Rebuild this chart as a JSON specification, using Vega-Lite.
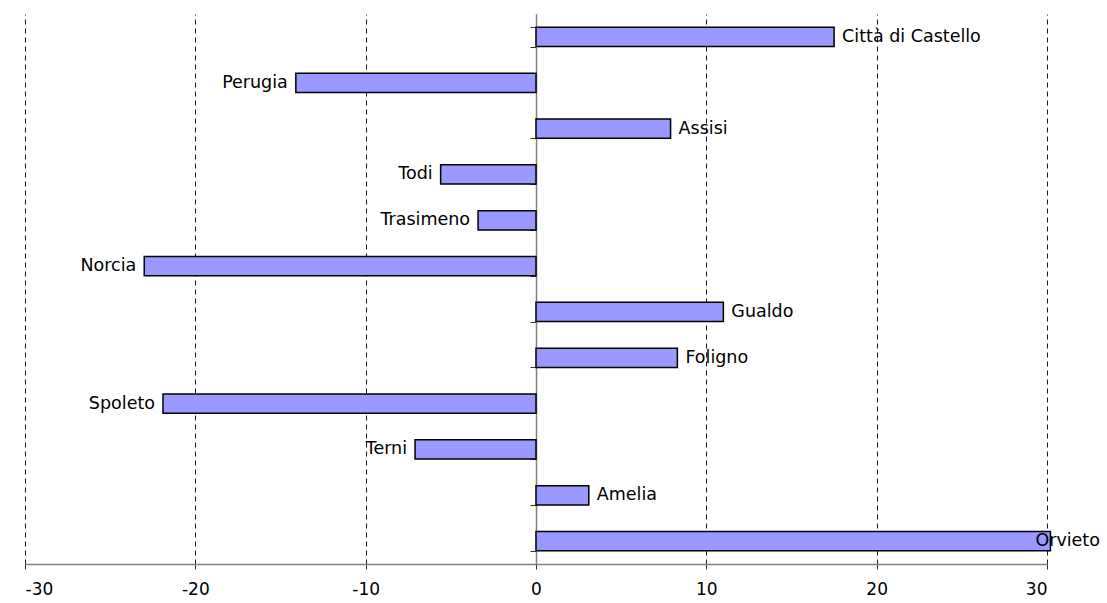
{
  "$schema": "https://vega.github.io/schema/vega-lite/v6.json",
  "width": 1022,
  "height": 550,
  "autosize": "none",
  "padding": {"left": 25, "top": 14, "right": 60, "bottom": 39},
  "background": "white",
  "config": {
    "view": {"stroke": null},
    "font": "DejaVu Sans"
  },
  "data": {
    "values": [
      {"area": "Città di Castello", "value": 17.5},
      {"area": "Perugia", "value": -14.1},
      {"area": "Assisi", "value": 7.9},
      {"area": "Todi", "value": -5.6},
      {"area": "Trasimeno", "value": -3.4},
      {"area": "Norcia", "value": -23.0},
      {"area": "Gualdo", "value": 11.0},
      {"area": "Foligno", "value": 8.3},
      {"area": "Spoleto", "value": -21.9},
      {"area": "Terni", "value": -7.1},
      {"area": "Amelia", "value": 3.1},
      {"area": "Orvieto", "value": 30.2}
    ]
  },
  "encoding": {
    "y": {
      "field": "area",
      "type": "nominal",
      "sort": null,
      "scale": {"paddingInner": 0.58, "paddingOuter": 0.29},
      "axis": {
        "title": null,
        "labels": false,
        "offset": -511,
        "tickBand": "extent",
        "tickSize": 6,
        "tickColor": "#333333",
        "domainColor": "#808080",
        "domainWidth": 1.5,
        "grid": false
      }
    },
    "x": {
      "field": "value",
      "type": "quantitative",
      "scale": {"domain": [-30, 30], "nice": false},
      "axis": {
        "title": null,
        "values": [-30, -20, -10, 0, 10, 20, 30],
        "labelExpr": "replace(datum.label, '\u2212', '-')",
        "grid": true,
        "gridColor": "#000000",
        "gridDash": [5, 4],
        "gridWidth": 0.9,
        "domainColor": "#808080",
        "domainWidth": 1.5,
        "tickColor": "#333333",
        "tickSize": 5,
        "labelFont": "DejaVu Sans",
        "labelFontSize": 17,
        "labelColor": "#000000",
        "labelPadding": 12
      }
    }
  },
  "layer": [
    {
      "mark": {"type": "bar", "fill": "#9999ff", "stroke": "#000000", "strokeWidth": 1.5}
    },
    {
      "transform": [{"filter": "datum.value >= 0 && datum.value < 29"}],
      "mark": {"type": "text", "align": "left", "baseline": "middle", "dx": 8, "fontSize": 17.5, "color": "#000000"},
      "encoding": {"text": {"field": "area"}}
    },
    {
      "transform": [{"filter": "datum.value < 0"}],
      "mark": {"type": "text", "align": "right", "baseline": "middle", "dx": -8, "fontSize": 17.5, "color": "#000000"},
      "encoding": {"text": {"field": "area"}}
    },
    {
      "transform": [{"filter": "datum.value >= 29"}],
      "mark": {"type": "text", "align": "left", "baseline": "middle", "dx": -15, "fontSize": 17.5, "color": "#000000"},
      "encoding": {"text": {"field": "area"}}
    }
  ]
}
